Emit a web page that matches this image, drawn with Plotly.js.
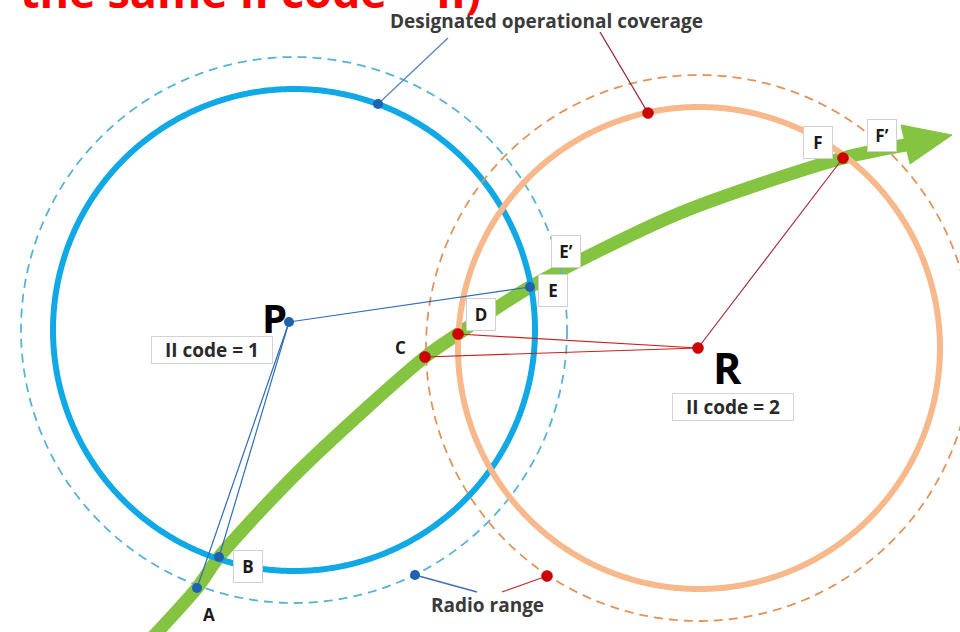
<!DOCTYPE html>
<html>
<head>
<meta charset="utf-8">
<script src="https://cdn.plot.ly/plotly-3.0.1.min.js"></script>
<style>html,body{margin:0;padding:0;background:#fff;}#chart{width:960px;height:632px;}</style>
</head>
<body>
<div id="chart"></div>
<script>
// ---- Diagram data (pixel-space coordinates) ----
const circleNames = ["P coverage", "P radio range", "R coverage", "R radio range"];
const circleCX = [294, 294, 699, 699];
const circleCY = [330, 330, 348, 348];
const circleR = [241, 273, 241, 273];
const circleColors = ["#11A8E6", "#57B2DA", "#F7B88B", "#E3935A"];

// green trajectory
const pathX = [150, 197, 219, 300, 425, 458, 530, 680, 843, 906];
const pathY = [640, 588, 557, 470, 357, 334, 287, 213, 158, 145];
const headX = [901, 952, 910, 901];
const headY = [125, 135, 164, 125];

// named points
const blueNames = ["P", "A", "B", "E", "cov1", "rad1"];
const blueX = [289, 197, 219, 530, 378, 415];
const blueY = [322, 588, 557, 287, 104, 575];
const redNames = ["R", "C", "D", "F", "cov2", "rad2"];
const redX = [698, 425, 458, 843, 648, 547];
const redY = [348, 357, 334, 158, 113, 576];

// connection lines (index pairs into point arrays)
const blueLinks = [[0, 1], [0, 2], [0, 3]];
const redLinks = [[0, 1], [0, 2], [0, 3]];
// leader lines: from point to label
const leaderX = [[378, 448], [648, 600], [415, 477], [547, 502]];
const leaderY = [[104, 38], [113, 32], [575, 592], [576, 592]];
const leaderColors = ["#5A86B8", "#9B2335", "#3F6FB0", "#C0302F"];

// letter labels
const letterText = ["A", "B", "C", "D", "E", "E’", "F", "F’"];
const letterX = [209, 248, 400, 481, 553, 566, 818, 882];
const letterY = [614, 566, 347, 314, 290, 251, 142, 135];
const letterBoxed = [false, true, false, true, true, true, true, true];

// ---- build ----
const traces = [];
traces.push({x: pathX, y: pathY, mode: "lines", line: {color: "#84C441", width: 13, shape: "spline", smoothing: 0.8}, hoverinfo: "skip"});
traces.push({x: headX, y: headY, mode: "lines", fill: "toself", fillcolor: "#84C441", line: {color: "#84C441", width: 1}, hoverinfo: "skip"});

for (let i = 0; i < circleNames.length; i++) {
  const xs = [], ys = [];
  for (let k = 0; k <= 720; k++) {
    const t = k * Math.PI / 360;
    xs.push(circleCX[i] + circleR[i] * Math.cos(t));
    ys.push(circleCY[i] + circleR[i] * Math.sin(t));
  }
  const dashed = i % 2 === 1;
  traces.push({x: xs, y: ys, mode: "lines", name: circleNames[i],
    line: {color: circleColors[i], width: dashed ? 1.8 : 6, dash: dashed ? "9px,6px" : "solid", simplify: false}, hoverinfo: "skip"});
}

blueLinks.forEach(l => traces.push({x: [blueX[l[0]], blueX[l[1]]], y: [blueY[l[0]], blueY[l[1]]], mode: "lines", line: {color: "#2F6DB5", width: 1.2}, hoverinfo: "skip"}));
redLinks.forEach((l, i) => traces.push({x: [redX[l[0]], redX[l[1]]], y: [redY[l[0]], redY[l[1]]], mode: "lines", line: {color: i === 2 ? "#A33040" : "#CC1F1F", width: 1.2}, hoverinfo: "skip"}));
leaderX.forEach((lx, i) => traces.push({x: lx, y: leaderY[i], mode: "lines", line: {color: leaderColors[i], width: 1.3}, hoverinfo: "skip"}));

traces.push({x: blueX, y: blueY, mode: "markers", marker: {color: "#1F62B0", size: 10}, hoverinfo: "skip"});
traces.push({x: redX, y: redY, mode: "markers", marker: {color: "#D10000", size: 11, line: {color: "#A00000", width: 0.5}}, hoverinfo: "skip"});

const F = "'Open Sans', sans-serif";
const annotations = [];
letterText.forEach((t, i) => annotations.push({
  x: letterX[i], y: letterY[i], xref: "x", yref: "y", text: "<b>" + t + "</b>", showarrow: false,
  font: {family: F, size: 17, color: "#1a1a1a"},
  bgcolor: letterBoxed[i] ? "#ffffff" : "rgba(0,0,0,0)",
  bordercolor: letterBoxed[i] ? "#d0d0d0" : "rgba(0,0,0,0)", borderwidth: 1, borderpad: 4,
  width: letterBoxed[i] ? 20 : undefined
}));
annotations.push({x: 274, y: 317, xref: "x", yref: "y", text: "<b>P</b>", showarrow: false, font: {family: F, size: 40, color: "#000"}});
annotations.push({x: 727, y: 367, xref: "x", yref: "y", text: "<b>R</b>", showarrow: false, font: {family: F, size: 43, color: "#000"}});
annotations.push({x: 212, y: 350, xref: "x", yref: "y", text: "<b>II code = 1</b>", showarrow: false, font: {family: F, size: 19, color: "#2a2a2a"},
  bgcolor: "#fff", bordercolor: "#d4d4d4", borderwidth: 1, borderpad: 0, width: 120});
annotations.push({x: 733, y: 407, xref: "x", yref: "y", text: "<b>II code = 2</b>", showarrow: false, font: {family: F, size: 19, color: "#2a2a2a"},
  bgcolor: "#fff", bordercolor: "#d4d4d4", borderwidth: 1, borderpad: 0, width: 120});
annotations.push({x: 546, y: 21, xref: "x", yref: "y", text: "<b>Designated operational coverage</b>", showarrow: false, font: {family: F, size: 19, color: "#3a3a3a"}});
annotations.push({x: 487, y: 605, xref: "x", yref: "y", text: "<b>Radio range</b>", showarrow: false, font: {family: F, size: 19, color: "#3a3a3a"}});
annotations.push({x: 18 / 960, y: 1 + 9 / 632, xref: "paper", yref: "paper", xanchor: "left", yanchor: "middle", text: "<b>the same II code = II)</b>", showarrow: false, font: {family: F, size: 45, color: "#FF0000"}});

const layout = {
  width: 960, height: 632,
  margin: {l: 0, r: 0, t: 0, b: 0},
  paper_bgcolor: "#fff", plot_bgcolor: "#fff",
  showlegend: false,
  xaxis: {range: [0, 960], visible: false, fixedrange: true},
  yaxis: {range: [632, 0], visible: false, fixedrange: true},
  annotations: annotations
};
Plotly.newPlot("chart", traces, layout, {staticPlot: true, displayModeBar: false});
</script>
</body>
</html>
